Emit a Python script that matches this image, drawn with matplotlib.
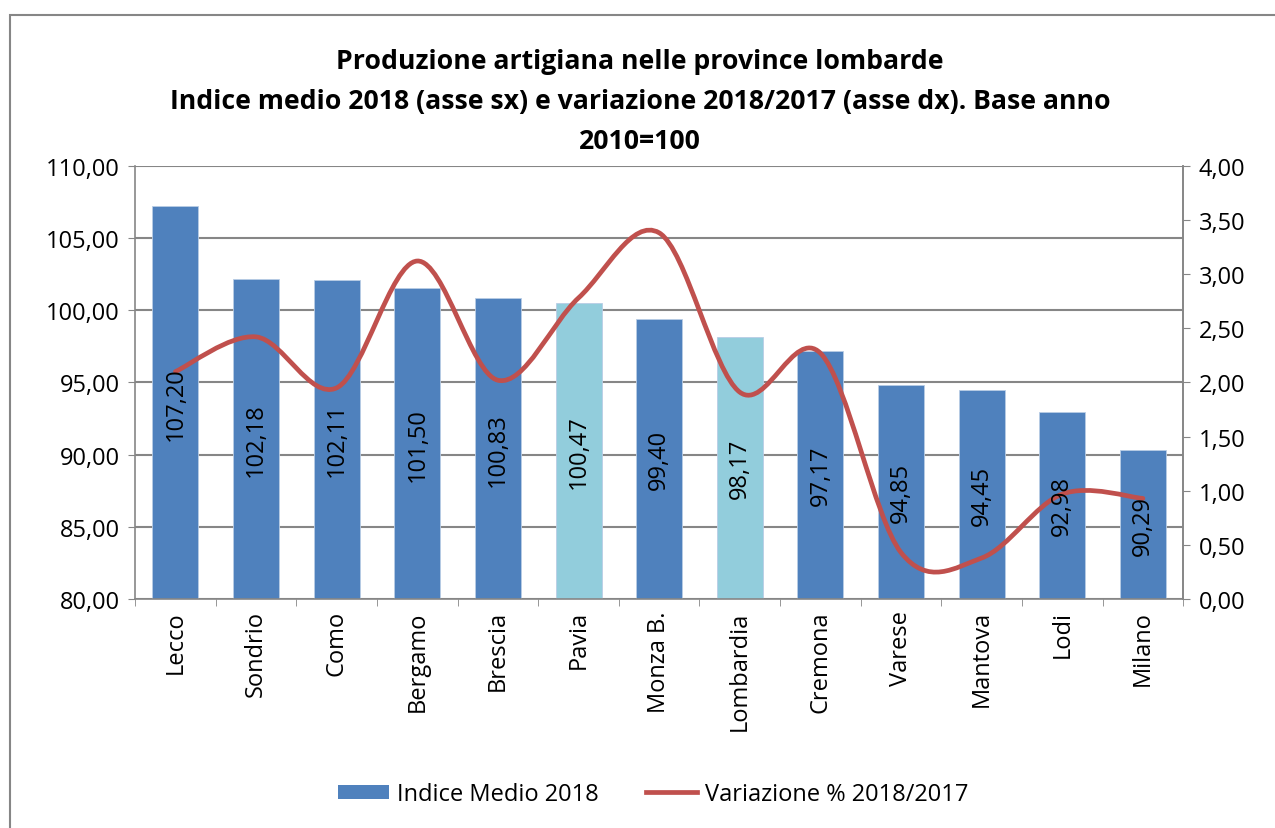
import numpy as np
import matplotlib.pyplot as plt
from matplotlib.path import Path
from matplotlib.patches import PathPatch, Rectangle
from matplotlib.lines import Line2D

categories = ['Lecco', 'Sondrio', 'Como', 'Bergamo', 'Brescia', 'Pavia', 'Monza B.',
              'Lombardia', 'Cremona', 'Varese', 'Mantova', 'Lodi', 'Milano']
indice = [107.20, 102.18, 102.11, 101.50, 100.83, 100.47, 99.40, 98.17, 97.17, 94.85, 94.45, 92.98, 90.29]
variazione = [2.10, 2.42, 1.95, 3.12, 2.02, 2.78, 3.38, 1.91, 2.27, 0.43, 0.38, 0.97, 0.93]
highlight = ['Pavia', 'Lombardia']

BLUE = '#4F81BD'
LIGHT = '#92CDDC'
RED = '#C0504D'
GRID = '#868686'
FS = 17

plt.rcParams['font.family'] = ['Open Sans', 'DejaVu Sans']


def fmt(v):
    return f'{v:.2f}'.replace('.', ',')


def smooth_path(xs, ys):
    # Excel-like smoothed line: Catmull-Rom as cubic Bezier segments
    xs = np.asarray(xs, float)
    ys = np.asarray(ys, float)
    n = len(xs)
    verts = [(xs[0], ys[0])]
    codes = [Path.MOVETO]
    for i in range(n - 1):
        i0 = max(i - 1, 0)
        i3 = min(i + 2, n - 1)
        c1 = (xs[i] + (xs[i + 1] - xs[i0]) / 6, ys[i] + (ys[i + 1] - ys[i0]) / 6)
        c2 = (xs[i + 1] - (xs[i3] - xs[i]) / 6, ys[i + 1] - (ys[i3] - ys[i]) / 6)
        verts += [c1, c2, (xs[i + 1], ys[i + 1])]
        codes += [Path.CURVE4] * 3
    return Path(verts, codes)


def main():
    fig = plt.figure(figsize=(12.75, 8.29), dpi=100)
    ax = fig.add_axes([0.106, 0.276, 0.822, 0.523])
    x = np.arange(len(categories))
    colors = [LIGHT if c in highlight else BLUE for c in categories]
    ax.bar(x, [v - 80 for v in indice], bottom=80, width=0.57, color=colors,
           edgecolor='#B9CDE5', linewidth=0.6, zorder=2)
    ax.set_ylim(80, 110)
    ax.set_xlim(-0.5, len(categories) - 0.5)
    yt = np.arange(80, 111, 5)
    ax.set_yticks(yt)
    ax.set_yticklabels([fmt(v) for v in yt], fontsize=FS)
    ax.set_xticks(x)
    ax.set_xticklabels(categories, rotation=90, fontsize=FS)
    ax.set_xticks(np.arange(-0.5, len(categories), 1), minor=True)
    ax.tick_params(axis='x', which='major', length=0, pad=8)
    ax.tick_params(axis='x', which='minor', length=5, color=GRID)
    ax.tick_params(axis='y', length=5, color=GRID, pad=6)
    ax.grid(axis='y', color=GRID, linewidth=1.5, zorder=0)
    ax.set_axisbelow(True)
    ax.spines['top'].set_visible(False)
    for s in ['left', 'right', 'bottom']:
        ax.spines[s].set_color(GRID)
        ax.spines[s].set_linewidth(1.2)

    ax2 = ax.twinx()
    ax2.set_ylim(0, 4)
    rt = np.arange(0, 4.01, 0.5)
    ax2.set_yticks(rt)
    ax2.set_yticklabels([fmt(v) for v in rt], fontsize=FS)
    ax2.tick_params(axis='y', length=5, color=GRID, pad=6)
    for s in ['top', 'left', 'bottom']:
        ax2.spines[s].set_visible(False)
    ax2.spines['right'].set_color(GRID)
    ax2.spines['right'].set_linewidth(1.2)
    ax2.add_patch(PathPatch(smooth_path(x, variazione), facecolor='none', edgecolor=RED,
                            linewidth=3.4, capstyle='round', zorder=4))

    # bar value labels, drawn above the line
    for xi, v in zip(x, indice):
        ax2.text(xi, (80 + v) / 2, fmt(v), rotation=90, transform=ax.transData,
                 ha='center', va='center', fontsize=FS, zorder=5)

    title_lines = ['Produzione artigiana nelle province lombarde',
                   'Indice medio 2018 (asse sx) e variazione 2018/2017 (asse dx). Base anno',
                   '2010=100']
    for i, t in enumerate(title_lines):
        fig.text(0.502, 0.925 - 0.048 * i, t, ha='center', va='center',
                 fontsize=19.2, fontweight='bold')

    handles = [Rectangle((0, 0), 1, 1, facecolor=BLUE),
               Line2D([0], [0], color=RED, linewidth=3.4)]
    fig.legend(handles, ['Indice Medio 2018', 'Variazione % 2018/2017'], loc='center',
               bbox_to_anchor=(0.512, 0.041), ncols=2, frameon=False, fontsize=FS,
               handlelength=2.2, handleheight=0.55, handletextpad=0.3, columnspacing=2.0)

    fig.add_artist(Rectangle((10 / 1275, -0.1), 1.2, 1 - 16 / 829 + 0.1, transform=fig.transFigure,
                             facecolor='none', edgecolor=GRID, linewidth=1.5))
    fig.savefig('out.png', dpi=100)


if __name__ == "__main__":
    main()
